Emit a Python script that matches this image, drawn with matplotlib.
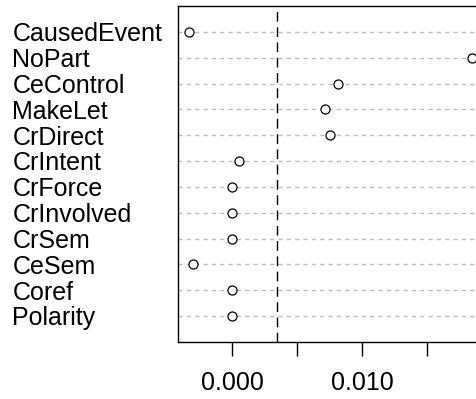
"""Dot chart of feature effects (R dotchart look-alike)."""

import matplotlib
matplotlib.use("Agg")
import matplotlib.pyplot as plt
import matplotlib.transforms as mtransforms

# rows from top to bottom
features = [
    "CausedEvent", "NoPart", "CeControl", "MakeLet", "CrDirect", "CrIntent",
    "CrForce", "CrInvolved", "CrSem", "CeSem", "Coref", "Polarity",
]
effects = [
    -0.00328, 0.01844, 0.00813, 0.00718, 0.00754, 0.00056,
    0.0, 0.0, 0.0, -0.00297, 0.0, 0.0,
]
threshold = 0.00344
tick_values = [0.0, 0.005, 0.010, 0.015]
tick_labels = ["0.000", "", "0.010", ""]

W, H = 477, 399
fig = plt.figure(figsize=(W / 100, H / 100), dpi=100)
ax = fig.add_axes([178 / W, (H - 342) / H, (483 - 178) / W, (342 - 6) / H])

n = len(features)
rows = list(range(n, 0, -1))

for y in rows:
    ax.axhline(y, color="#bebebe", lw=1.0, ls=(0, (3, 3)), zorder=1)
ax.axvline(threshold, color="black", lw=1.0, ls=(0, (7, 4)), zorder=2)
ax.plot(effects, rows, ls="none", marker="o", ms=6.5, mfc="white",
        mec="black", mew=0.9, zorder=3)

ax.set_xlim(-0.00415, 0.0193)
ax.set_ylim(0, n + 1)
ax.set_yticks([])
ax.set_xticks(tick_values)
ax.set_xticklabels(tick_labels, family="Liberation Sans", fontsize=18)
ax.tick_params(axis="x", length=10, width=1.0, pad=11)
for sp in ax.spines.values():
    sp.set_linewidth(1.0)

# labels sit with their baseline ~9 px below the row line, like R
trans = mtransforms.blended_transform_factory(fig.transFigure, ax.transData)
trans = trans + mtransforms.ScaledTranslation(0, -9.3 / 100, fig.dpi_scale_trans)
for name, y in zip(features, rows):
    ax.text(12.5 / W, y, name, transform=trans, ha="left", va="baseline",
            family="Liberation Sans", fontsize=18, clip_on=False)

fig.savefig("out.png", dpi=100)
